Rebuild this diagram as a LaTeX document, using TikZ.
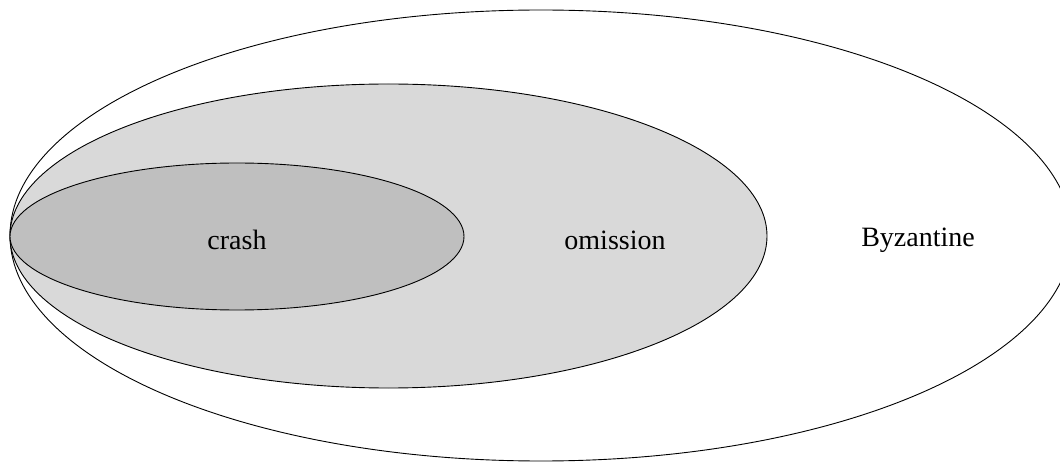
\documentclass[tikz,border=0pt]{standalone}
\usepackage{fontspec}
\setmainfont{Liberation Serif}
\usetikzlibrary{shapes.geometric}
\begin{document}
\begin{tikzpicture}[x=1pt,y=-1pt,
  region/.style={draw=black,line width=0.9pt},
  label/.style={font=\fontsize{28}{34}\selectfont,inner sep=0pt}]
\useasboundingbox (0,0) rectangle (1060,462);
% nested failure classes, all touching at the left
\draw[region,fill=white] (541,235.5) ellipse [x radius=531,y radius=225.5];
\draw[region,fill=black!15] (388.5,236) ellipse [x radius=378.5,y radius=152];
\draw[region,fill=black!25] (237,236.5) ellipse [x radius=227,y radius=73.5];
\node[label] (crash) at (237,240) {crash};
\node[label] (omission) at (615,240) {omission};
\node[label] (byz) at (918,240) {Byzantine};
\end{tikzpicture}
\end{document}
